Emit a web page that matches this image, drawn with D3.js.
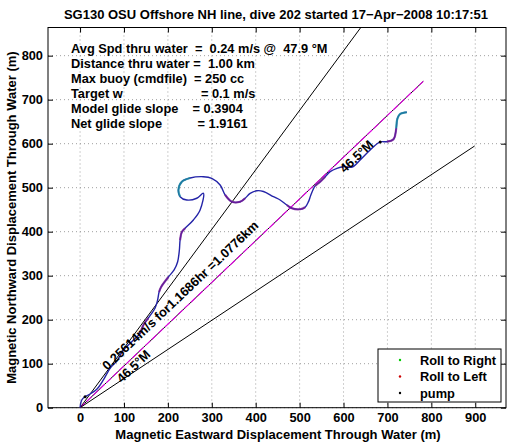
<!DOCTYPE html>
<html><head><meta charset="utf-8">
<script src="https://cdn.jsdelivr.net/npm/d3@7"></script>
<style>
body{margin:0;background:#fff;}
text{font-family:"Liberation Sans",Arial,Helvetica,sans-serif;font-weight:bold;}
</style></head><body>
<svg id="chart" width="514" height="442"></svg>
<script>
// ---- data ----
const titleText = "SG130 OSU Offshore NH line, dive 202 started 17\u2212Apr\u22122008 10:17:51";
const xLabel = "Magnetic Eastward Displacement Through Water (m)";
const yLabel = "Magnetic Northward Displacement Through Water (m)";
const xTicks = [0,100,200,300,400,500,600,700,800,900];
const yTicks = [0,100,200,300,400,500,600,700,800];
const infoLines = [
  "Avg Spd thru water  =  0.24 m/s @  47.9 \u00b0M",
  "Distance thru water =  1.00 km",
  "Max buoy (cmdfile)  = 250 cc",
  "Target w                      = 0.1 m/s",
  "Model glide slope    = 0.3904",
  "Net glide slope          = 1.9161"
];
// glider track (east, north) in metres
const trackX = [0,3.9,11.4,22.8,38.7,53.1,68.4,83.6,98.7,117.8,136.7,144.2,155.6,170.9,176.6,180,184.6,201.2,214.2,222.1,226.2,227.8,231.7,239.2,258.1,273.4,280.9,265.8,243.1,227.8,224,231.7,250.6,280.9,300,319,330.4,345.6,364.5,376,387.3,402.6,417.6,440.4,455.6,470.9,482.3,501.3,512.6,520.2,525.6,535.4,546.8,558.2,569.6,585,600,619.7,637.9,660.7,683.5,698.8,713.8,720,722.9,729,744.3];
const trackY = [0,17.5,25,31.1,42.5,63,89.5,106,131,150,169,188,204,226.6,244.8,263,274.3,297,313,331,358.4,381,399,407.7,426.6,449.3,487.3,476,472,479.5,494.8,513.6,522,525,521.4,506,483.4,468,468,476,487,493,491.4,479.5,472,460.7,453.2,451,455.5,468.2,483.4,504,513.6,525,536.4,544,547.7,547,563,585.7,604,604.5,610,635,657.7,667.5,671.4];
// track index ranges flagged as roll to left / roll to right
const rollLeftRanges = [[10,12],[15,17],[21,23],[36,39],[45,48],[51,53],[61,63]];
const rollRightRanges = [[29,32],[63,66]];
const pumpIdx = [2,60];
// reference headings (deg magnetic) and lengths (m)
const headingMain = 46.5;
const headingOffsets = [-10,0,10];
const lineLength = 1077.6;
const lineLabel = "0.25614m/s for1.1686hr =1.0776km";
const headingLabel = "46.5\u00b0M";
const legendLabels = ["Roll to Right","Roll to Left","pump"];
const legendColors = ["#00cc00","#cc0000","#000000"];

// ---- layout ----
const svg = d3.select("#chart");
const L=48,R=506,T=27.5,B=407.7;
const x = d3.scaleLinear().domain([-73,970]).range([L,R]);
const y = d3.scaleLinear().domain([0,864]).range([B,T]);
const fs = 12.8;

svg.append("rect").attr("width",514).attr("height",442).attr("fill","#fff");
svg.append("defs").append("clipPath").attr("id","clip").append("rect")
  .attr("x",L).attr("y",T).attr("width",R-L).attr("height",B-T);

// grid
const grid = svg.append("g").attr("stroke","#888").attr("stroke-width",0.8).attr("stroke-dasharray","1,3");
xTicks.forEach(t=>grid.append("line").attr("x1",x(t)).attr("x2",x(t)).attr("y1",T).attr("y2",B));
yTicks.forEach(t=>grid.append("line").attr("y1",y(t)).attr("y2",y(t)).attr("x1",L).attr("x2",R));

// axes
const xa = svg.append("g").attr("transform",`translate(0,${B})`)
  .call(d3.axisBottom(x).tickValues(xTicks).tickSize(-5).tickPadding(5).tickFormat(d3.format("d")));
const xt = svg.append("g").attr("transform",`translate(0,${T})`)
  .call(d3.axisTop(x).tickValues(xTicks).tickSize(-5).tickFormat(""));
const ya = svg.append("g").attr("transform",`translate(${L},0)`)
  .call(d3.axisLeft(y).tickValues(yTicks).tickSize(-5).tickPadding(5).tickFormat(d3.format("d")));
const yr = svg.append("g").attr("transform",`translate(${R},0)`)
  .call(d3.axisRight(y).tickValues(yTicks).tickSize(-5).tickFormat(""));
[xa,xt,ya,yr].forEach(g=>{g.select(".domain").remove();
  g.selectAll("text").attr("font-size",fs).attr("font-family","Liberation Sans, Arial, sans-serif").attr("font-weight","bold").attr("fill","#000");
  g.selectAll("line").attr("stroke","#000");});
svg.append("rect").attr("x",L).attr("y",T).attr("width",R-L).attr("height",B-T)
  .attr("fill","none").attr("stroke","#000").attr("stroke-width",1);

// reference lines
const plot = svg.append("g").attr("clip-path","url(#clip)");
headingOffsets.forEach(o=>{
  const a=(headingMain+o)*Math.PI/180;
  const ex=lineLength*Math.sin(a), ey=lineLength*Math.cos(a);
  plot.append("line").attr("x1",x(0)).attr("y1",y(0)).attr("x2",x(ex)).attr("y2",y(ey))
    .attr("stroke","#000").attr("stroke-width",1);
  if(o===0){
    plot.append("line").attr("x1",x(0)).attr("y1",y(0)).attr("x2",x(ex)).attr("y2",y(ey))
      .attr("stroke","#e000e0").attr("stroke-width",1.1).attr("stroke-dasharray","7,2");
  }
});

// track
const pts = trackX.map((v,i)=>[v,trackY[i]]);
const line = d3.line().x(d=>x(d[0])).y(d=>y(d[1])).curve(d3.curveCatmullRom.alpha(0.5));
plot.append("path").attr("d",line(pts)).attr("fill","none").attr("stroke","#2424a8").attr("stroke-width",1.4);
rollLeftRanges.forEach(([a,b])=>{
  plot.append("path").attr("d",line(pts.slice(a,b+1))).attr("fill","none")
    .attr("stroke","#7a1a96").attr("stroke-width",2.2).attr("stroke-opacity",0.75);
});
rollRightRanges.forEach(([a,b])=>{
  plot.append("path").attr("d",line(pts.slice(a,b+1))).attr("fill","none")
    .attr("stroke","#1a90a0").attr("stroke-width",2.2).attr("stroke-opacity",0.8);
});
pumpIdx.forEach(i=>{
  plot.append("circle").attr("cx",x(pts[i][0])).attr("cy",y(pts[i][1])).attr("r",1.5).attr("fill","#000");
});

// labels along lines
const ang = -Math.atan(Math.cos(headingMain*Math.PI/180)/Math.sin(headingMain*Math.PI/180))*180/Math.PI;
svg.append("text").attr("transform",`translate(${x(62)},${y(84)}) rotate(${ang})`)
  .attr("font-size",fs).text(lineLabel);
svg.append("text").attr("transform",`translate(${x(95)},${y(55)}) rotate(${ang})`)
  .attr("font-size",fs).text(headingLabel);
svg.append("text").attr("transform",`translate(${x(603)},${y(532)}) rotate(${ang})`)
  .attr("font-size",fs).text(headingLabel);

// info text
infoLines.forEach((s,i)=>{
  svg.append("text").attr("x",71).attr("y",52.5+i*15.1).attr("font-size",fs)
    .style("white-space","pre").attr("xml:space","preserve").text(s);
});

// title and axis labels
svg.append("text").attr("x",276).attr("y",19).attr("text-anchor","middle").attr("font-size",13).text(titleText);
svg.append("text").attr("x",278).attr("y",438.5).attr("text-anchor","middle").attr("font-size",13).text(xLabel);
svg.append("text").attr("transform",`translate(16,${(T+B)/2}) rotate(-90)`).attr("text-anchor","middle").attr("font-size",13).text(yLabel);

// legend
const lg = svg.append("g");
lg.append("rect").attr("x",378).attr("y",349).attr("width",123).attr("height",53).attr("fill","#fff").attr("stroke","#000");
legendLabels.forEach((s,i)=>{
  const yy = 360+i*16.5;
  lg.append("circle").attr("cx",400).attr("cy",yy).attr("r",1.2).attr("fill",legendColors[i]);
  lg.append("text").attr("x",420).attr("y",yy+4.5).attr("font-size",fs).text(s);
});
</script>
</body></html>
